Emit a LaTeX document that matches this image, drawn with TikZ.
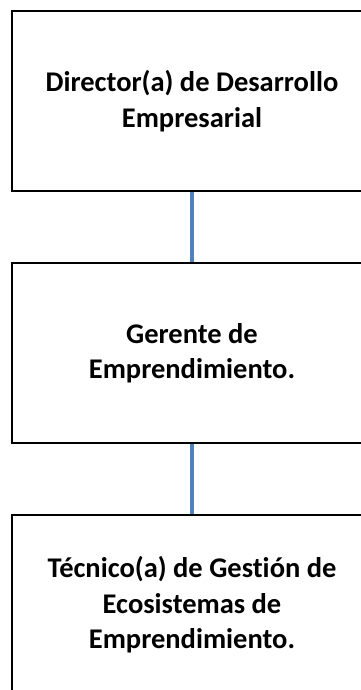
\documentclass[tikz,border=0pt]{standalone}
\usepackage{fontspec}
\setmainfont{Carlito}[Ligatures=NoCommon]
\usetikzlibrary{positioning}
\definecolor{lineblue}{HTML}{4F81BD}

\tikzset{
  cargo/.style={draw=black, line width=2pt, minimum width=360pt, minimum height=180pt,
    inner sep=0pt, outer sep=0pt, align=center,
    font=\fontsize{28.5}{35.5}\selectfont\bfseries},
  enlace/.style={draw=lineblue, line width=4pt, shorten <=1pt, shorten >=1pt}
}

\begin{document}
\begin{tikzpicture}[x=1pt,y=1pt]
		\useasboundingbox (0,0) rectangle (360,-690);	% page
		
		% boxes
		\node[cargo] (director) at (192,-101) {Director(a) de Desarrollo\\Empresarial};
		\node[cargo, below=72pt of director] (gerente) {Gerente de\\Emprendimiento.};
		\node[cargo, below=72pt of gerente] (tecnico) {Técnico(a) de Gestión de\\Ecosistemas de\\Emprendimiento.};
		
		% links
		\draw[enlace] (director.south) -- (gerente.north);
		\draw[enlace] (gerente.south) -- (tecnico.north);
\end{tikzpicture}
\end{document}
